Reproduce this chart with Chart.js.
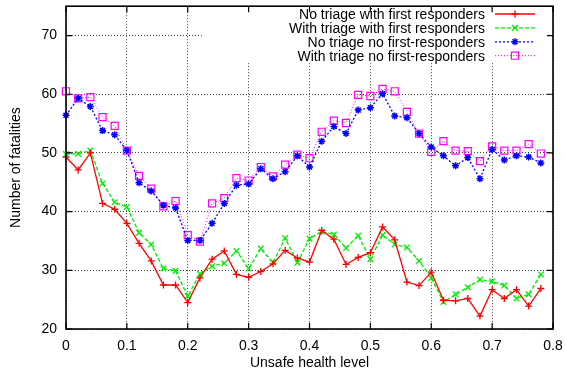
<!DOCTYPE html>
<html>
<head>
<meta charset="utf-8">
<script src="https://cdn.jsdelivr.net/npm/chart.js"></script>
<style>
  body { margin: 0; background: #fff; }
  #wrap { width: 565px; height: 378px; }
</style>
</head>
<body>
<div id="wrap"><canvas id="fatalChart" width="565" height="378"></canvas></div>
<script>
// unsafe health level (x) for each run
var healthLevels = [0, 0.02, 0.04, 0.06, 0.08, 0.10, 0.12, 0.14, 0.16, 0.18,
                    0.20, 0.22, 0.24, 0.26, 0.28, 0.30, 0.32, 0.34, 0.36, 0.38,
                    0.40, 0.42, 0.44, 0.46, 0.48, 0.50, 0.52, 0.54, 0.56, 0.58,
                    0.60, 0.62, 0.64, 0.66, 0.68, 0.70, 0.72, 0.74, 0.76, 0.78];

var noTriageWithFR = [49.3, 47.1, 50.0, 41.4, 40.4, 38.0, 34.6, 31.6, 27.5, 27.5,
                      24.5, 28.7, 31.9, 33.3, 29.3, 28.8, 29.8, 31.1, 33.4, 32.1,
                      31.4, 36.8, 35.3, 31.0, 32.2, 33.0, 37.4, 35.2, 28.0, 27.4,
                      29.7, 24.9, 24.8, 25.2, 22.2, 26.7, 25.2, 26.7, 23.9, 26.9];

var triageWithFR = [49.8, 49.85, 50.4, 44.8, 41.6, 40.8, 36.4, 34.4, 30.3, 29.9,
                    25.6, 29.4, 30.7, 31.2, 33.3, 30.3, 33.7, 31.3, 35.5, 31.3,
                    35.4, 36.6, 36.1, 33.8, 35.9, 31.9, 36.0, 34.4, 33.9, 31.6,
                    28.7, 24.6, 25.9, 27.1, 28.4, 28.1, 27.4, 25.2, 25.9, 29.3];

var noTriageNoFR = [56.4, 59.3, 57.9, 53.8, 53.1, 50.4, 44.9, 43.5, 41.1, 40.6,
                    35.1, 35.1, 38.0, 41.4, 44.5, 44.7, 47.3, 45.6, 46.8, 49.5,
                    47.6, 52.0, 54.5, 53.3, 57.3, 57.7, 60.1, 56.3, 56.0, 53.3,
                    51.0, 49.5, 47.8, 49.2, 45.6, 50.6, 48.8, 49.5, 49.3, 48.3];

var triageNoFR = [60.5, 59.3, 59.5, 56.1, 54.6, 50.4, 46.1, 43.9, 40.9, 41.8,
                  36.0, 34.9, 41.4, 42.3, 45.7, 45.3, 47.6, 46.0, 48.0, 49.7,
                  49.1, 53.6, 55.5, 55.1, 59.9, 59.7, 60.9, 60.5, 57.0, 53.3,
                  50.2, 52.0, 50.4, 50.3, 48.6, 51.1, 50.4, 50.4, 51.5, 49.9];

var seriesNames = ['No triage with first responders', 'With triage with first responders',
                   'No triage no first-responders', 'With triage no first-responders'];

var xTicks = [0, 0.1, 0.2, 0.3, 0.4, 0.5, 0.6, 0.7, 0.8];
var yTicks = [20, 30, 40, 50, 60, 70];

var FONT = '"Liberation Sans", Arial, Helvetica, sans-serif';

function points(vals) {
    return healthLevels.map(function (x, i) { return { x: x, y: vals[i] }; });
}

// small marker painter for the key samples
function marker(ctx, style, x, y, r) {
    ctx.beginPath();
    if (style === 'cross') {
        ctx.moveTo(x - r, y); ctx.lineTo(x + r, y);
        ctx.moveTo(x, y - r); ctx.lineTo(x, y + r);
    } else if (style === 'crossRot') {
        var d = r * Math.SQRT1_2;
        ctx.moveTo(x - d, y - d); ctx.lineTo(x + d, y + d);
        ctx.moveTo(x - d, y + d); ctx.lineTo(x + d, y - d);
    } else if (style === 'star') {
        var s = r * Math.SQRT1_2;
        ctx.moveTo(x - r, y); ctx.lineTo(x + r, y);
        ctx.moveTo(x, y - r); ctx.lineTo(x, y + r);
        ctx.moveTo(x - s, y - s); ctx.lineTo(x + s, y + s);
        ctx.moveTo(x - s, y + s); ctx.lineTo(x + s, y - s);
    } else if (style === 'rect') {
        var h = r * Math.SQRT1_2;
        ctx.rect(x - h, y - h, 2 * h, 2 * h);
    }
    ctx.stroke();
}

var gnuplotFrame = {
    id: 'gnuplotFrame',
    afterDatasetsDraw: function (chart) {
        var ctx = chart.ctx, a = chart.chartArea;
        var xs = chart.scales.x, ys = chart.scales.y;
        ctx.save();

        // key box (opaque, hides grid)
        ctx.fillStyle = '#fff';
        ctx.fillRect(203, 5, a.right - 203, 58);
        ctx.font = '14px ' + FONT;
        ctx.textAlign = 'right';
        ctx.textBaseline = 'middle';
        chart.data.datasets.forEach(function (ds, i) {
            var y = 14 + i * 13.9;
            ctx.fillStyle = '#000';
            ctx.fillText(ds.label, 485, y + 1);
            ctx.strokeStyle = ds.borderColor;
            ctx.lineWidth = ds.borderWidth;
            ctx.setLineDash(ds.borderDash || []);
            ctx.beginPath();
            ctx.moveTo(495, y); ctx.lineTo(535, y);
            ctx.stroke();
            ctx.setLineDash([]);
            ctx.lineWidth = ds.pointBorderWidth;
            marker(ctx, ds.pointStyle, 515, y, ds.pointRadius);
        });

        // plot border
        ctx.strokeStyle = '#000';
        ctx.lineWidth = 1.6;
        ctx.strokeRect(a.left, a.top, a.right - a.left, a.bottom - a.top);

        // inward tick marks on all four sides
        ctx.lineWidth = 1.2;
        ctx.beginPath();
        yTicks.forEach(function (v) {
            var py = ys.getPixelForValue(v);
            ctx.moveTo(a.left, py); ctx.lineTo(a.left + 6, py);
            ctx.moveTo(a.right, py); ctx.lineTo(a.right - 6, py);
        });
        xTicks.forEach(function (v) {
            var px = xs.getPixelForValue(v);
            ctx.moveTo(px, a.bottom); ctx.lineTo(px, a.bottom - 6);
            ctx.moveTo(px, a.top); ctx.lineTo(px, a.top + 6);
        });
        ctx.stroke();
        ctx.restore();
    }
};

var gridStyle = {
    color: 'rgba(0,0,0,0.75)',
    lineWidth: 1,
    drawTicks: false
};

var ctx = document.getElementById('fatalChart');
var fatalChart = new Chart(ctx, {
    type: 'line',
    data: {
        datasets: [{
            label: seriesNames[0],
            data: points(noTriageWithFR),
            borderColor: '#ff0000',
            borderWidth: 1.3,
            pointStyle: 'cross',
            pointRadius: 3.5,
            pointBorderWidth: 1.3,
            pointBorderColor: '#ff0000',
            pointBackgroundColor: 'rgba(0,0,0,0)'
        }, {
            label: seriesNames[1],
            data: points(triageWithFR),
            borderColor: '#00ee00',
            borderWidth: 1.3,
            borderDash: [4, 2],
            pointStyle: 'crossRot',
            pointRadius: 4,
            pointBorderWidth: 1.3,
            pointBorderColor: '#00ee00',
            pointBackgroundColor: 'rgba(0,0,0,0)'
        }, {
            label: seriesNames[2],
            data: points(noTriageNoFR),
            borderColor: '#0000ff',
            borderWidth: 1.3,
            borderDash: [2, 2],
            pointStyle: 'star',
            pointRadius: 3.5,
            pointBorderWidth: 1.5,
            pointBorderColor: '#0000ff',
            pointBackgroundColor: 'rgba(0,0,0,0)'
        }, {
            label: seriesNames[3],
            data: points(triageNoFR),
            borderColor: '#ff00ff',
            borderWidth: 1,
            borderDash: [1, 2],
            pointStyle: 'rect',
            pointRadius: 5,
            pointBorderWidth: 1.2,
            pointBorderColor: '#ff00ff',
            pointBackgroundColor: 'rgba(0,0,0,0)'
        }]
    },
    options: {
        responsive: false,
        animation: false,
        devicePixelRatio: 1,
        layout: { padding: { top: 3, right: 12, left: 0, bottom: 0 } },
        elements: { line: { tension: 0 } },
        datasets: { line: { clip: false } },
        plugins: {
            legend: { display: false },
            tooltip: { enabled: false }
        },
        scales: {
            x: {
                type: 'linear',
                min: 0,
                max: 0.8,
                afterBuildTicks: function (scale) {
                    scale.ticks = xTicks.map(function (v) { return { value: v }; });
                },
                afterFit: function (scale) {
                    scale.height = 49;
                    scale.paddingLeft = 0;
                    scale.paddingRight = 0;
                },
                grid: Object.assign({ borderDash: [1, 2] }, gridStyle),
                border: { display: false, dash: [1, 2] },
                ticks: {
                    color: '#000',
                    padding: 9,
                    maxRotation: 0,
                    font: { family: FONT, size: 14 },
                    callback: function (v) { return v === 0 ? '0' : v.toFixed(1); }
                },
                title: {
                    display: true,
                    text: 'Unsafe health level',
                    color: '#000',
                    font: { family: FONT, size: 14 },
                    padding: { top: 0, bottom: 6 }
                }
            },
            y: {
                min: 20,
                max: 75,
                afterBuildTicks: function (scale) {
                    scale.ticks = yTicks.map(function (v) { return { value: v }; });
                },
                afterFit: function (scale) {
                    scale.width = 66;
                    scale.paddingTop = 0;
                    scale.paddingBottom = 0;
                },
                grid: gridStyle,
                border: { display: false, dash: [1, 2] },
                ticks: {
                    color: '#000',
                    padding: 9,
                    font: { family: FONT, size: 14 }
                },
                title: {
                    display: true,
                    text: 'Number of fatalities',
                    color: '#000',
                    font: { family: FONT, size: 14 },
                    padding: { top: 8, bottom: 0 }
                }
            }
        }
    },
    plugins: [gnuplotFrame]
});
</script>
</body>
</html>
